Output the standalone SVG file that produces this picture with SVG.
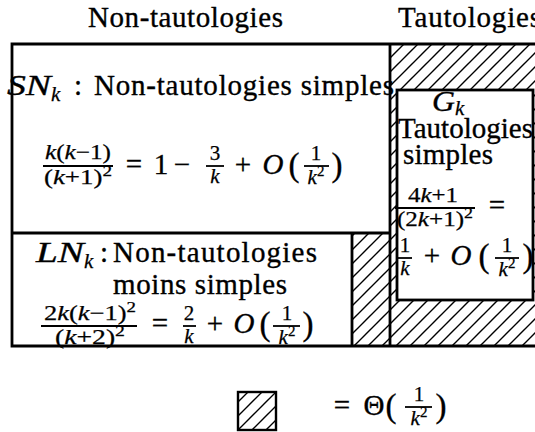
<svg xmlns="http://www.w3.org/2000/svg" width="535" height="432" viewBox="0 0 535 432" font-family="'Liberation Serif', 'DejaVu Serif', serif">
<defs>
<pattern id="hatch" patternUnits="userSpaceOnUse" width="14" height="14"><path d="M0,14 L14,0 M-7,7 L7,-7 M7,21 L21,7" stroke="#000" stroke-width="1.4"/></pattern>
<pattern id="hatchL" patternUnits="userSpaceOnUse" x="10" width="14" height="14"><path d="M0,14 L14,0 M-7,7 L7,-7 M7,21 L21,7" stroke="#000" stroke-width="1.4"/></pattern>
<style>
text{font-family:'Liberation Serif','DejaVu Serif',serif;font-size:29px;fill:#000;stroke:#000;stroke-width:0.35}
.it{font-style:italic}
.s{font-size:21px;stroke-width:0.25}
.ss{font-size:15px}
.m{text-anchor:middle}
.p{font-size:33px;text-anchor:middle}
.b{stroke:#000;stroke-width:2.8;fill:none}
.fr{stroke:#000;stroke-width:1.8}
</style>
</defs>
<rect width="535" height="432" fill="#fff"/>
<g id="titles">
<text x="88" y="27" textLength="195">Non-tautologies</text>
<text x="398" y="27" textLength="143">Tautologies</text>
</g>
<g id="hatched">
<rect x="390" y="44" width="150" height="302" fill="url(#hatch)"/>
<rect x="352" y="233" width="38" height="113" fill="url(#hatch)"/>
</g>
<g id="frame">
<path class="b" d="M540,44 H12 V346 H540 M390,44 V346 M12,233 H390 M352,233 V346"/>
</g>
<g id="SN">
<text x="7" y="95" class="it" textLength="44" lengthAdjust="spacingAndGlyphs">SN</text>
<text x="51" y="101" class="it s">k</text>
<text x="74" y="95">:</text>
<text x="94" y="95" textLength="300">Non-tautologies simples</text>
<text x="78" y="159" class="s m" textLength="66" lengthAdjust="spacingAndGlyphs"><tspan class="it">k</tspan>(<tspan class="it">k</tspan>−1)</text>
<line class="fr" x1="43" y1="166" x2="113" y2="166"/>
<text x="78" y="184" class="s m" textLength="68" lengthAdjust="spacingAndGlyphs">(<tspan class="it">k</tspan>+1)<tspan class="ss" dy="-8">2</tspan></text>
<text x="134" y="174" class="m">=</text>
<text x="161" y="174" class="m">1</text>
<text x="182" y="174" class="m">−</text>
<text x="215" y="160" class="s m">3</text>
<line class="fr" x1="206" y1="166" x2="224" y2="166"/>
<text x="215" y="183" class="s m it">k</text>
<text x="243" y="174" class="m">+</text>
<text x="273" y="174" class="m it">O</text>
<text x="294" y="176" class="p">(</text>
<text x="316" y="160" class="s m">1</text>
<line class="fr" x1="304" y1="166" x2="329" y2="166"/>
<text x="316" y="184" class="s m"><tspan class="it">k</tspan><tspan class="ss" dy="-8">2</tspan></text>
<text x="337" y="176" class="p">)</text>
</g>
<g id="LN">
<text x="36" y="262" class="it" textLength="48" lengthAdjust="spacingAndGlyphs">LN</text>
<text x="84" y="268" class="it s">k</text>
<text x="100" y="262">:</text>
<text x="113" y="262" textLength="204">Non-tautologies</text>
<text x="113" y="294" textLength="174">moins simples</text>
<text x="90" y="320" class="s m" textLength="92" lengthAdjust="spacingAndGlyphs">2<tspan class="it">k</tspan>(<tspan class="it">k</tspan>−1)<tspan class="ss" dy="-8">2</tspan></text>
<line class="fr" x1="41" y1="326" x2="137" y2="326"/>
<text x="90" y="344" class="s m" textLength="70" lengthAdjust="spacingAndGlyphs">(<tspan class="it">k</tspan>+2)<tspan class="ss" dy="-8">2</tspan></text>
<text x="160" y="333" class="m">=</text>
<text x="189" y="320" class="s m">2</text>
<line class="fr" x1="183" y1="326" x2="196" y2="326"/>
<text x="189" y="343" class="s m it">k</text>
<text x="215" y="333" class="m">+</text>
<text x="244" y="333" class="m it">O</text>
<text x="265" y="335" class="p">(</text>
<text x="287" y="320" class="s m">1</text>
<line class="fr" x1="273" y1="326" x2="300" y2="326"/>
<text x="287" y="344" class="s m"><tspan class="it">k</tspan><tspan class="ss" dy="-8">2</tspan></text>
<text x="308" y="335" class="p">)</text>
</g>
<g id="G">
<rect x="397" y="90" width="136" height="210" fill="#fff" stroke="#000" stroke-width="2.8"/>
<text x="432" y="111" class="it" textLength="23" lengthAdjust="spacingAndGlyphs">G</text>
<text x="455" y="115" class="it s">k</text>
<text x="398" y="138" textLength="135">Tautologies</text>
<text x="403" y="164" textLength="90">simples</text>
<text x="433" y="202" class="s m" textLength="50" lengthAdjust="spacingAndGlyphs">4<tspan class="it">k</tspan>+1</text>
<line class="fr" x1="395" y1="208" x2="475" y2="208"/>
<text x="435" y="226" class="s m" textLength="76" lengthAdjust="spacingAndGlyphs">(2<tspan class="it">k</tspan>+1)<tspan class="ss" dy="-8">2</tspan></text>
<text x="497" y="215" class="m">=</text>
<text x="405" y="252" class="s m">1</text>
<line class="fr" x1="398" y1="258" x2="412" y2="258"/>
<text x="405" y="275" class="s m it">k</text>
<text x="432" y="265" class="m">+</text>
<text x="461" y="265" class="m it">O</text>
<text x="484" y="267" class="p">(</text>
<text x="507" y="252" class="s m">1</text>
<line class="fr" x1="495" y1="258" x2="519" y2="258"/>
<text x="507" y="276" class="s m"><tspan class="it">k</tspan><tspan class="ss" dy="-8">2</tspan></text>
<text x="528" y="267" class="p">)</text>
</g>
<g id="legend">
<rect x="238" y="392" width="38" height="38" fill="url(#hatchL)" stroke="#000" stroke-width="2.4"/>
<text x="342" y="415" class="m">=</text>
<text x="374" y="415" class="m">Θ</text>
<text x="391" y="417" class="p">(</text>
<text x="419" y="401" class="s m">1</text>
<line class="fr" x1="405" y1="407" x2="432" y2="407"/>
<text x="419" y="425" class="s m"><tspan class="it">k</tspan><tspan class="ss" dy="-8">2</tspan></text>
<text x="441" y="417" class="p">)</text>
</g>
<g id="connectors"/>
</svg>
